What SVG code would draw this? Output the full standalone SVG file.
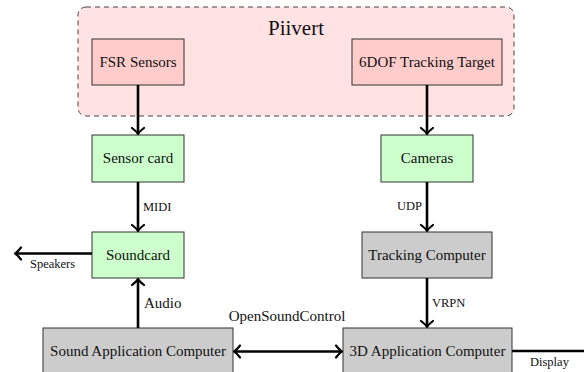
<svg xmlns="http://www.w3.org/2000/svg" width="584" height="372" viewBox="0 0 584 372">
<defs>
<style>
.node rect{stroke:#333;stroke-width:1}
.pink rect{fill:#ffcccc}
.green rect{fill:#ccffcc}
.gray rect{fill:#cccccc}
text{font-family:"Liberation Serif","Times New Roman",serif;fill:#111}
.nt{font-size:15px;text-anchor:middle}
.lbl{font-size:15px}
.sm{font-size:12.5px}
#connectors line{stroke:#000;stroke-width:2.6;fill:none}
</style>
<marker id="ah" viewBox="-8 -8 10 16" markerWidth="10" markerHeight="16" refX="0" refY="0" markerUnits="userSpaceOnUse" orient="auto-start-reverse">
<path d="M-6,-6 Q-2,-1 0,0 Q-2,1 -6,6" fill="none" stroke="#000" stroke-width="2.2" stroke-linecap="round" stroke-linejoin="round"/>
</marker>
</defs>
<rect width="584" height="372" fill="#fff"/>
<g id="piivert">
<rect x="78" y="7" width="436" height="109" rx="8" fill="#ffe2e2" stroke="#444" stroke-width="1" stroke-dasharray="5,4"/>
<text x="296" y="35" font-size="21" text-anchor="middle">Piivert</text>
</g>
<g id="fsr" class="node pink"><rect x="92" y="39" width="92" height="46"/><text class="nt" x="138" y="67">FSR Sensors</text></g>
<g id="dof" class="node pink"><rect x="352" y="39" width="150" height="46"/><text class="nt" x="427" y="67">6DOF Tracking Target</text></g>
<g id="sensorcard" class="node green"><rect x="92" y="135" width="92" height="47"/><text class="nt" x="138" y="163">Sensor card</text></g>
<g id="cameras" class="node green"><rect x="381" y="135" width="92" height="47"/><text class="nt" x="427" y="163">Cameras</text></g>
<g id="soundcard" class="node green"><rect x="92" y="232" width="92" height="46"/><text class="nt" x="138" y="260">Soundcard</text></g>
<g id="tracking" class="node gray"><rect x="362" y="232" width="130" height="46"/><text class="nt" x="427" y="260">Tracking Computer</text></g>
<g id="soundapp" class="node gray"><rect x="43" y="328" width="190" height="47"/><text class="nt" x="138" y="356">Sound Application Computer</text></g>
<g id="app3d" class="node gray"><rect x="343" y="328" width="169" height="47"/><text class="nt" x="427.5" y="356">3D Application Computer</text></g>
<g id="connectors">
<line x1="138" y1="85" x2="138" y2="134" marker-end="url(#ah)"/>
<line x1="427" y1="85" x2="427" y2="134" marker-end="url(#ah)"/>
<line x1="138" y1="182" x2="138" y2="231" marker-end="url(#ah)"/>
<line x1="427" y1="182" x2="427" y2="231" marker-end="url(#ah)"/>
<line x1="138" y1="328" x2="138" y2="279" marker-end="url(#ah)"/>
<line x1="427" y1="278" x2="427" y2="327" marker-end="url(#ah)"/>
<line x1="92" y1="253.5" x2="15" y2="253.5" marker-end="url(#ah)"/>
<line x1="234" y1="351.5" x2="342" y2="351.5" marker-start="url(#ah)" marker-end="url(#ah)"/>
<line x1="512" y1="351" x2="592" y2="351" marker-end="url(#ah)"/>
<text class="sm" x="143" y="211">MIDI</text>
<text class="sm" x="422" y="210" text-anchor="end">UDP</text>
<text class="lbl" x="144" y="308">Audio</text>
<text class="sm" x="432" y="307">VRPN</text>
<text class="sm" x="30" y="268">Speakers</text>
<text class="lbl" x="287" y="321" text-anchor="middle">OpenSoundControl</text>
<text class="sm" x="530" y="366">Display</text>
</g>
</svg>
